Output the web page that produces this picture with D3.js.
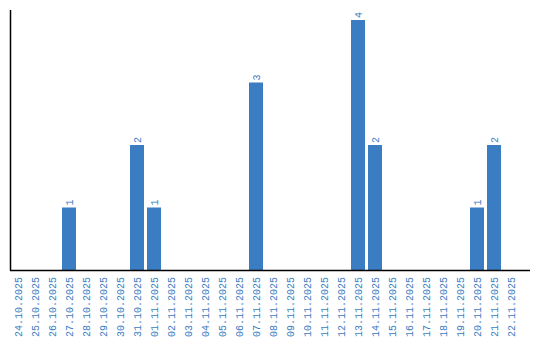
<!DOCTYPE html>
<html><head><meta charset="utf-8">
<script src="https://cdn.jsdelivr.net/npm/d3@7"></script>
<style>html,body{margin:0;padding:0;background:#fff;}</style>
</head><body>
<svg id="c" width="540" height="340"></svg>
<script>
const categories = ["24.10.2025","25.10.2025","26.10.2025","27.10.2025","28.10.2025","29.10.2025","30.10.2025","31.10.2025",
"01.11.2025","02.11.2025","03.11.2025","04.11.2025","05.11.2025","06.11.2025","07.11.2025","08.11.2025","09.11.2025","10.11.2025",
"11.11.2025","12.11.2025","13.11.2025","14.11.2025","15.11.2025","16.11.2025","17.11.2025","18.11.2025","19.11.2025","20.11.2025",
"21.11.2025","22.11.2025"];
const values = [0,0,0,1,0,0,0,2,1,0,0,0,0,0,3,0,0,0,0,0,4,2,0,0,0,0,0,1,2,0];

const color = "#3a7dc3";
const font = "'Liberation Mono', monospace";
const svg = d3.select("#c");
const x = d3.scaleBand().domain(categories).range([11, 518]).paddingInner(3/17).paddingOuter(0);
const y = d3.scaleLinear().domain([0, 4]).range([270, 20]);

const data = categories.map((c,i)=>({c, v: values[i]})).filter(d=>d.v>0);

svg.append("g").selectAll("rect").data(data).join("rect")
  .attr("x", d=>x(d.c)).attr("width", x.bandwidth())
  .attr("y", d=>y(d.v))
  .attr("height", d=>y(0)-y(d.v))
  .attr("fill", color);

svg.append("g").selectAll("text").data(data).join("text")
  .attr("transform", d=>`translate(${x(d.c)+x.bandwidth()/2},${y(d.v)-2}) rotate(-90)`)
  .attr("dy","0.35em")
  .attr("text-anchor","start")
  .attr("fill", color)
  .style("font-family",font).style("font-size","10px")
  .text(d=>d.v);

const xAxis = svg.append("g").attr("transform","translate(0,270)")
  .call(d3.axisBottom(x).tickSize(0).tickPadding(0));
xAxis.select(".domain").remove();
xAxis.selectAll("text")
  .attr("transform","translate(0,7) rotate(-90)")
  .attr("x",0).attr("y",0).attr("dy","0.35em")
  .attr("text-anchor","end")
  .attr("fill", color)
  .style("font-family",font).style("font-size","10px");

svg.append("line").attr("x1",10.5).attr("x2",10.5).attr("y1",10).attr("y2",270.5)
  .attr("stroke","#000").attr("stroke-width",1.5);
svg.append("line").attr("x1",10).attr("x2",530).attr("y1",270.5).attr("y2",270.5)
  .attr("stroke","#000").attr("stroke-width",1.5);
</script>
</body></html>
